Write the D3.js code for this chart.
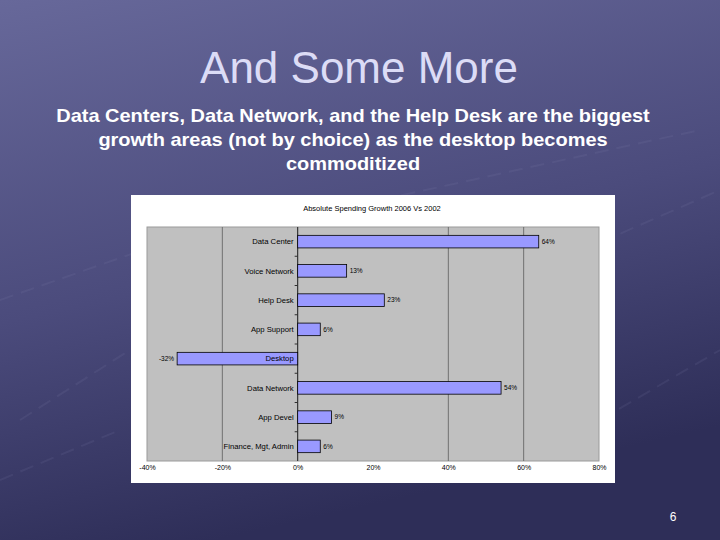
<!DOCTYPE html>
<html><head><meta charset="utf-8">
<script src="https://cdn.jsdelivr.net/npm/d3@7/dist/d3.min.js"></script>
<style>html,body{margin:0;padding:0;background:#3a3a66;}svg{display:block;}</style>
</head><body>
<svg id="c" width="720" height="540"></svg>
<script>
const categories = ["Data Center","Voice Network","Help Desk","App Support","Desktop","Data Network","App Devel","Finance, Mgt, Admin"];
const values = [64, 13, 23, 6, -32, 54, 9, 6];
const valueLabels = ["64%","13%","23%","6%","-32%","54%","9%","6%"];
const xTicks = [-40,-20,0,20,40,60,80];
const gridTicks = [-20,0,40,60];
const slideTitle = "And Some More";
const subtitleLines = ["Data Centers, Data Network, and the Help Desk are the biggest","growth areas (not by choice) as the desktop becomes","commoditized"];
const chartTitle = "Absolute Spending Growth 2006 Vs 2002";

const svg = d3.select("#c");
const defs = svg.append("defs");
const g1 = defs.append("linearGradient").attr("id","bg").attr("x1","0").attr("y1","0").attr("x2","0.3").attr("y2","1");
g1.append("stop").attr("offset","0%").attr("stop-color","#67689a");
g1.append("stop").attr("offset","55%").attr("stop-color","#4b4b7c");
g1.append("stop").attr("offset","100%").attr("stop-color","#2e2e58");
svg.append("rect").attr("width",720).attr("height",540).attr("fill","url(#bg)");

// subtle decorative network lines
const deco = svg.append("g").attr("stroke","#8a8ab8").attr("stroke-opacity",0.12).attr("fill","none");
[[0,300,200,230],[20,420,130,350],[380,200,700,130],[560,260,720,190],[600,420,720,350],[0,480,120,430]].forEach(d=>{
  deco.append("line").attr("x1",d[0]).attr("y1",d[1]).attr("x2",d[2]).attr("y2",d[3]).attr("stroke-width",2).attr("stroke-dasharray","14 8");
});

svg.append("text").attr("x",359).attr("y",83).attr("text-anchor","middle")
  .attr("font-family","Liberation Sans, Arial, sans-serif").attr("font-size",44).attr("fill","#dcdcf6").text(slideTitle);
const sub = svg.append("g").attr("transform","translate(353,0) scale(1.11,1)");
subtitleLines.forEach((t,i)=>{
  sub.append("text").attr("x",0).attr("y",122+i*24).attr("text-anchor","middle")
    .attr("font-family","Liberation Sans, Arial, sans-serif").attr("font-weight","bold").attr("font-size",18).attr("fill","#ffffff").text(t);
});
svg.append("text").attr("x",673).attr("y",521).attr("text-anchor","middle")
  .attr("font-family","Liberation Sans, Arial, sans-serif").attr("font-size",12).attr("fill","#ffffff").text("6");

// chart box
svg.append("rect").attr("x",131).attr("y",195).attr("width",484).attr("height",288).attr("fill","#ffffff");
svg.append("text").attr("x",372).attr("y",211).attr("text-anchor","middle")
  .attr("font-family","Liberation Sans, Arial, sans-serif").attr("font-size",7.5).attr("fill","#000").text(chartTitle);

const pl = {x0:147, x1:599, y0:227, y1:461};
const x = d3.scaleLinear().domain([-40,80]).range([pl.x0, pl.x1]);
const y = d3.scaleBand().domain(categories).range([pl.y0, pl.y1]).paddingInner(0.57).paddingOuter(0.285);

svg.append("rect").attr("x",pl.x0).attr("y",pl.y0).attr("width",pl.x1-pl.x0).attr("height",pl.y1-pl.y0)
  .attr("fill","#c0c0c0").attr("stroke","#9a9a9a").attr("stroke-width",1);

svg.append("g").selectAll("line").data(gridTicks).join("line")
  .attr("x1",d=>x(d)).attr("x2",d=>x(d)).attr("y1",pl.y0).attr("y2",pl.y1)
  .attr("stroke","#707070").attr("stroke-width",1);

// x axis labels
const xAxis = d3.axisBottom(x).tickValues(xTicks).tickSize(0).tickPadding(4).tickFormat(d=>d+"%");
const xg = svg.append("g").attr("transform",`translate(0,${pl.y1})`).call(xAxis);
xg.select(".domain").remove();
xg.selectAll("text").attr("font-family","Liberation Sans, Arial, sans-serif").attr("font-size",7).attr("fill","#000");

// zero axis with minor ticks
const step = y.step();
svg.append("line").attr("x1",x(0)).attr("x2",x(0)).attr("y1",pl.y0).attr("y2",pl.y1).attr("stroke","#303030");
svg.append("g").selectAll("line").data(d3.range(1,categories.length)).join("line")
  .attr("x1",x(0)-3).attr("x2",x(0)).attr("y1",d=>y(categories[d]) - y.paddingInner()*step/2).attr("y2",d=>y(categories[d]) - y.paddingInner()*step/2)
  .attr("stroke","#303030");

// bars
svg.append("g").selectAll("rect").data(values).join("rect")
  .attr("x",d=>x(Math.min(0,d))).attr("width",d=>Math.abs(x(d)-x(0)))
  .attr("y",(d,i)=>y(categories[i])).attr("height",y.bandwidth())
  .attr("fill","#9999ff").attr("stroke","#000").attr("stroke-width",0.8);

// category labels
svg.append("g").selectAll("text").data(categories).join("text")
  .attr("x",x(0)-4).attr("y",d=>y(d)+y.bandwidth()/2).attr("dy","0.35em").attr("text-anchor","end")
  .attr("font-family","Liberation Sans, Arial, sans-serif").attr("font-size",7.7).attr("fill","#000").text(d=>d);

// value labels
svg.append("g").selectAll("text").data(values).join("text")
  .attr("x",d=> d>=0 ? x(d)+3 : x(d)-3).attr("y",(d,i)=>y(categories[i])+y.bandwidth()/2).attr("dy","0.35em")
  .attr("text-anchor",d=> d>=0 ? "start" : "end")
  .attr("font-family","Liberation Sans, Arial, sans-serif").attr("font-size",6.5).attr("fill","#000").text((d,i)=>valueLabels[i]);
</script>
</body></html>
